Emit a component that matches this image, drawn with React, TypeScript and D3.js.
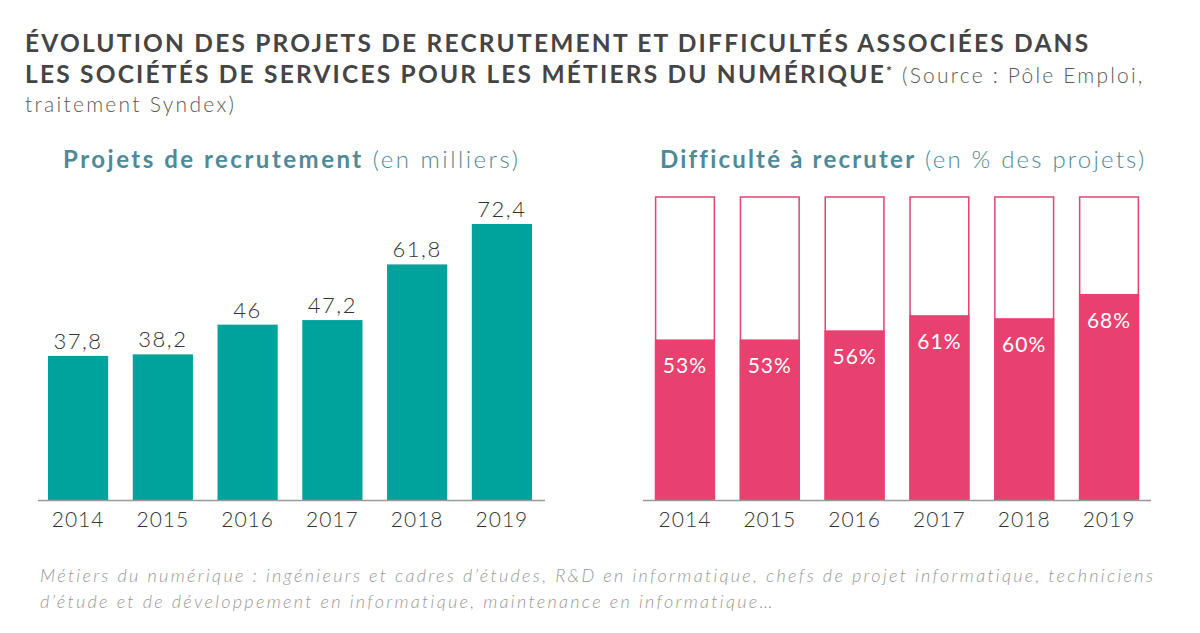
import React from "react";
import * as d3 from "d3";

const years = ["2014", "2015", "2016", "2017", "2018", "2019"];
const projets = [37.8, 38.2, 46, 47.2, 61.8, 72.4];
const projetsLabels = ["37,8", "38,2", "46", "47,2", "61,8", "72,4"];
const difficulte = [53, 53, 56, 61, 60, 68];

const TEAL = "#00a39c";
const PINK = "#e8416f";
const TITLE = "#454545";
const SUB = "#4e8a99";
const FONT = "Lato, 'Open Sans', sans-serif";

export default function App() {
  const W = 1200, H = 633;
  const baseY = 500;

  const xL = d3.scaleBand<string>().domain(years).range([38, 542]).paddingInner(0.29).paddingOuter(0.118);
  const yL = d3.scaleLinear().domain([0, 72.4]).range([baseY, 224]);

  const xR = d3.scaleBand<string>().domain(years).range([643, 1151]).paddingInner(0.29).paddingOuter(0.14);
  const yR = d3.scaleLinear().domain([0, 100]).range([baseY, 197]);

  return (
    <svg width={W} height={H} style={{ position: "absolute", left: 0, top: 0, background: "#fff" }} fontFamily={FONT}>
      <rect x={0} y={0} width={W} height={H} fill="#fff" />
      <text x={25} y={52} fontSize={24.5} fontWeight={700} fill={TITLE} letterSpacing={2.2}>
        ÉVOLUTION DES PROJETS DE RECRUTEMENT ET DIFFICULTÉS ASSOCIÉES DANS
      </text>
      <text x={25} y={83} fontSize={24.5} fill={TITLE} letterSpacing={2.2}>
        <tspan fontWeight={700}>LES SOCIÉTÉS DE SERVICES POUR LES MÉTIERS DU NUMÉRIQUE</tspan>
        <tspan fontWeight={700} fontSize={14} dy={-7}>*</tspan>
        <tspan fontWeight={300} fontSize={21} dy={7} fill="#5a5a5a"> (Source : Pôle Emploi,</tspan>
      </text>
      <text x={25} y={112} fontSize={21} fontWeight={300} fill="#5a5a5a" letterSpacing={2.3}>traitement Syndex)</text>

      <text x={63} y={168} fontSize={24} fill={SUB} letterSpacing={2.5}>
        <tspan fontWeight={700}>Projets de recrutement</tspan>
        <tspan fontWeight={300}> (en milliers)</tspan>
      </text>
      <text x={660} y={168} fontSize={24} fill={SUB} letterSpacing={2.2}>
        <tspan fontWeight={700}>Difficulté à recruter</tspan>
        <tspan fontWeight={300}> (en % des projets)</tspan>
      </text>

      {/* Left chart */}
      {years.map((yr, i) => (
        <g key={"l" + yr}>
          <rect x={xL(yr)} y={yL(projets[i])} width={xL.bandwidth()} height={baseY - yL(projets[i])} fill={TEAL} />
          <text x={xL(yr)! + xL.bandwidth() / 2} y={yL(projets[i]) - 7} textAnchor="middle" fontSize={22} fontWeight={300} fill="#333" letterSpacing={1.5}>
            {projetsLabels[i]}
          </text>
          <text x={xL(yr)! + xL.bandwidth() / 2} y={527} textAnchor="middle" fontSize={21} fontWeight={300} fill="#333" letterSpacing={1}>
            {yr}
          </text>
        </g>
      ))}
      <line x1={38} x2={545} y1={baseY + 0.5} y2={baseY + 0.5} stroke="#999" strokeWidth={1.5} />

      {/* Right chart */}
      {years.map((yr, i) => (
        <g key={"r" + yr}>
          <rect x={xR(yr)! + 0.75} y={yR(100)} width={xR.bandwidth() - 1.5} height={baseY - yR(100)} fill="#fff" stroke={PINK} strokeWidth={1.5} />
          <rect x={xR(yr)} y={yR(difficulte[i])} width={xR.bandwidth()} height={baseY - yR(difficulte[i])} fill={PINK} />
          <text x={xR(yr)! + xR.bandwidth() / 2} y={yR(difficulte[i]) + 34} textAnchor="middle" fontSize={21} fontWeight={400} fill="#fff" letterSpacing={1}>
            {difficulte[i]}%
          </text>
          <text x={xR(yr)! + xR.bandwidth() / 2} y={527} textAnchor="middle" fontSize={21} fontWeight={300} fill="#333" letterSpacing={1}>
            {yr}
          </text>
        </g>
      ))}
      <line x1={643} x2={1151} y1={baseY + 0.5} y2={baseY + 0.5} stroke="#999" strokeWidth={1.5} />

      <text x={40} y={582} fontSize={18} fontStyle="italic" fontWeight={300} fill="#999" letterSpacing={2.3}>
        Métiers du numérique : ingénieurs et cadres d’études, R&amp;D en informatique, chefs de projet informatique, techniciens
      </text>
      <text x={40} y={608} fontSize={18} fontStyle="italic" fontWeight={300} fill="#999" letterSpacing={2.3}>
        d’étude et de développement en informatique, maintenance en informatique…
      </text>
    </svg>
  );
}
